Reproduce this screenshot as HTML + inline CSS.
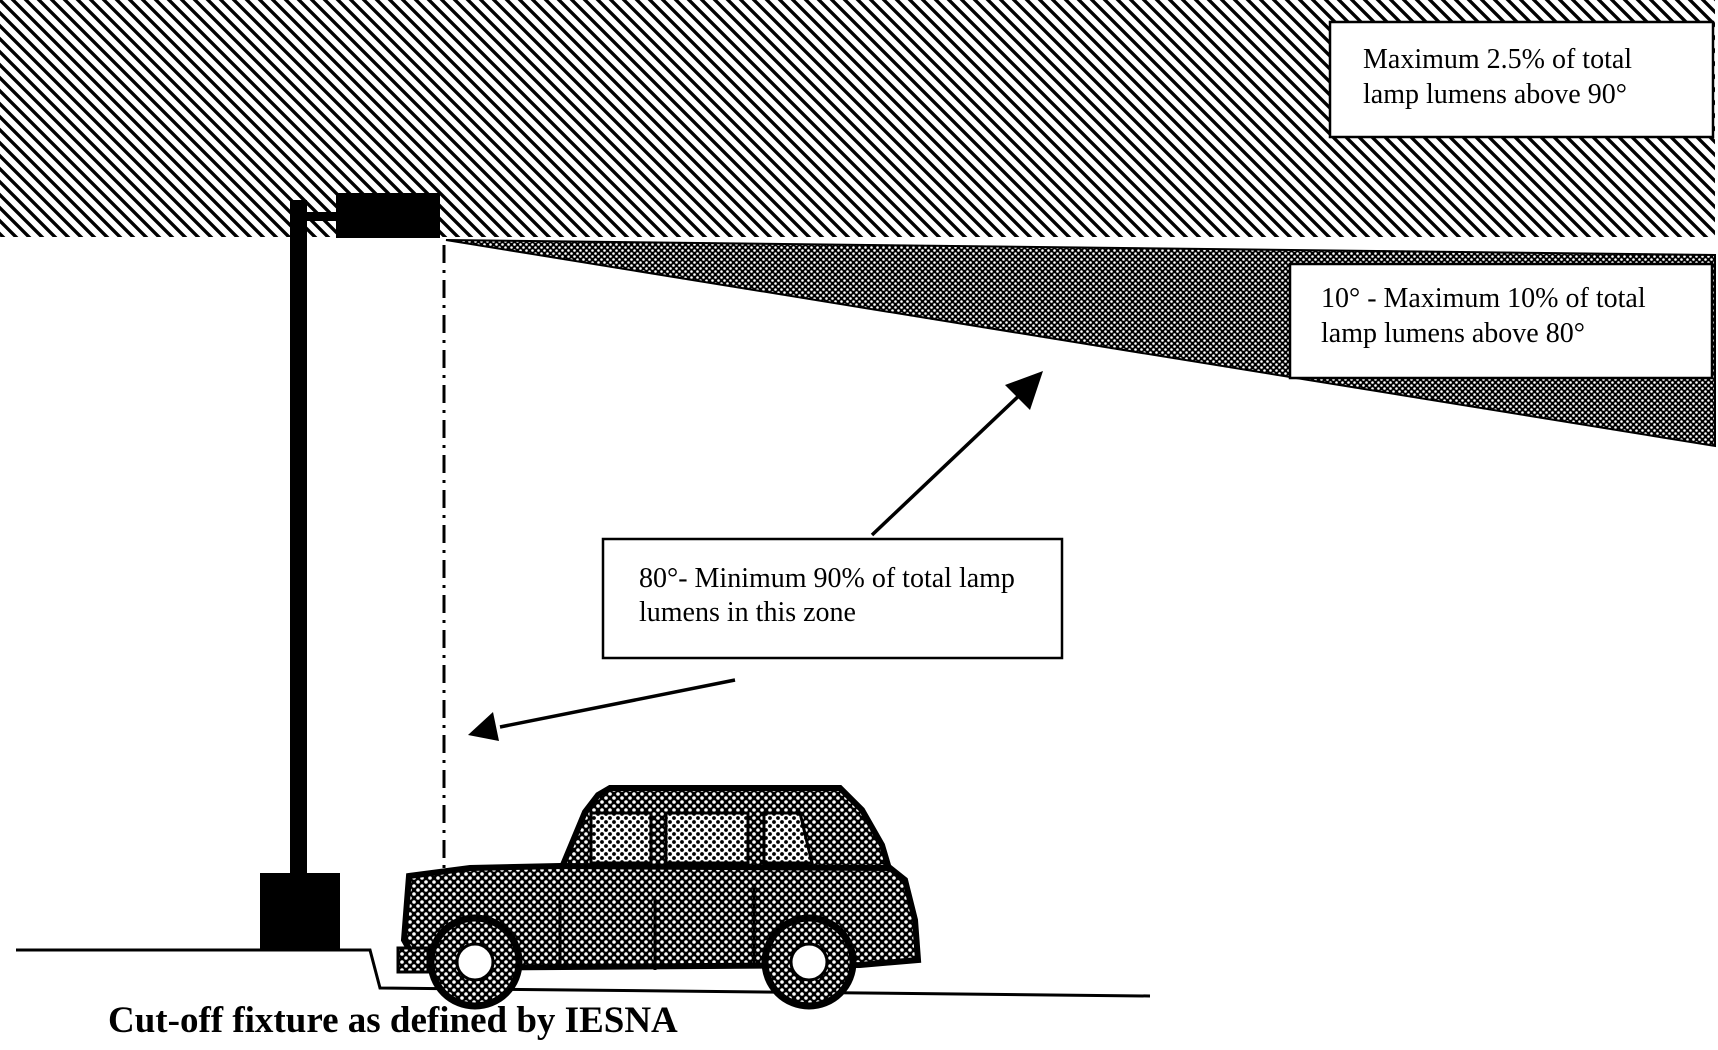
<!DOCTYPE html>
<html><head><meta charset="utf-8"><style>
html,body{margin:0;padding:0;background:#fff;}
svg{display:block;}
.t{font-family:"Liberation Serif",serif;font-size:28px;fill:#000;}
</style></head><body>
<svg width="1718" height="1050" viewBox="0 0 1718 1050" xmlns="http://www.w3.org/2000/svg">
<defs>
<pattern id="hatch" width="13" height="13" patternUnits="userSpaceOnUse">
<path d="M-3,-3 L16,16 M-3,10 L3,16 M10,-3 L16,3" stroke="#000" stroke-width="3.4"/>
</pattern>
<pattern id="dots" width="6" height="6" patternUnits="userSpaceOnUse">
<rect width="6" height="6" fill="#000"/>
<circle cx="1.5" cy="1.5" r="1.3" fill="#fff"/><circle cx="4.5" cy="4.5" r="1.3" fill="#fff"/>
</pattern>
<pattern id="cdots" width="8" height="8" patternUnits="userSpaceOnUse">
<rect width="8" height="8" fill="#000"/>
<circle cx="2" cy="2" r="1.8" fill="#fff"/><circle cx="6" cy="6" r="1.8" fill="#fff"/>
</pattern>
<pattern id="wdots" width="8" height="8" patternUnits="userSpaceOnUse">
<rect width="8" height="8" fill="#fff"/>
<circle cx="2" cy="2" r="1.9" fill="#000"/><circle cx="6" cy="6" r="1.9" fill="#000"/>
</pattern>
</defs>
<rect x="0" y="0" width="1715" height="237" fill="url(#hatch)"/>
<polygon points="446,240 1715,255 1715,446" fill="url(#dots)" stroke="#000" stroke-width="2"/>
<rect x="1330" y="22" width="383" height="115" fill="#fff" stroke="#000" stroke-width="2.5"/>
<text class="t" x="1363" y="68">Maximum 2.5% of total</text>
<text class="t" x="1363" y="103">lamp lumens above 90°</text>
<rect x="1290" y="264" width="422" height="114" fill="#fff" stroke="#000" stroke-width="2.5"/>
<text class="t" x="1321" y="307">10° - Maximum 10% of total</text>
<text class="t" x="1321" y="342">lamp lumens above 80°</text>
<rect x="290" y="200" width="17" height="680" fill="#000"/>
<rect x="305" y="212" width="34" height="9" fill="#000"/>
<rect x="336" y="193" width="104" height="45" fill="#000"/>
<rect x="260" y="873" width="80" height="78" fill="#000"/>
<line x1="444" y1="245" x2="444" y2="870" stroke="#000" stroke-width="3" stroke-dasharray="18,7,3,7"/>
<polyline points="16,950 370,950 380,988 1150,996" fill="none" stroke="#000" stroke-width="3"/>
<rect x="603" y="539" width="459" height="119" fill="#fff" stroke="#000" stroke-width="2.5"/>
<text class="t" x="639" y="587">80°- Minimum 90% of total lamp</text>
<text class="t" x="639" y="621">lumens in this zone</text>
<line x1="872" y1="535" x2="1025" y2="390" stroke="#000" stroke-width="3.5"/>
<polygon points="1043,371 1005,385 1030,410" fill="#000"/>
<line x1="735" y1="680" x2="500" y2="727" stroke="#000" stroke-width="3.5"/>
<polygon points="468,735 493,712 499,741" fill="#000"/>
<path d="M560,872 L585,812 L598,795 L610,788 L840,788 L862,810 L882,845 L890,872 Z" fill="url(#cdots)" stroke="#000" stroke-width="6"/>
<rect x="591" y="813" width="60" height="50" fill="url(#wdots)" stroke="#000" stroke-width="3"/>
<rect x="666" y="813" width="82" height="50" fill="url(#wdots)" stroke="#000" stroke-width="3"/>
<path d="M764,813 L800,813 L812,863 L764,863 Z" fill="url(#wdots)" stroke="#000" stroke-width="3"/>
<path d="M409,876 L470,868 L560,866 L890,868 L905,880 L915,920 L918,960 L860,965 L420,968 L404,940 Z" fill="url(#cdots)" stroke="#000" stroke-width="6"/>
<line x1="560" y1="900" x2="560" y2="970" stroke="#000" stroke-width="3"/>
<line x1="655" y1="900" x2="655" y2="970" stroke="#000" stroke-width="3"/>
<line x1="754" y1="885" x2="754" y2="965" stroke="#000" stroke-width="3"/>
<rect x="398" y="948" width="30" height="24" fill="url(#cdots)" stroke="#000" stroke-width="3"/>
<circle cx="475" cy="962" r="44" fill="url(#cdots)" stroke="#000" stroke-width="7"/>
<circle cx="475" cy="962" r="18" fill="#fff" stroke="#000" stroke-width="3"/>
<circle cx="809" cy="962" r="44" fill="url(#cdots)" stroke="#000" stroke-width="7"/>
<circle cx="809" cy="962" r="18" fill="#fff" stroke="#000" stroke-width="3"/>
<text x="108" y="1032" font-family="Liberation Serif, serif" font-size="37" font-weight="bold" fill="#000">Cut-off fixture as defined by IESNA</text>
</svg>
</body></html>
